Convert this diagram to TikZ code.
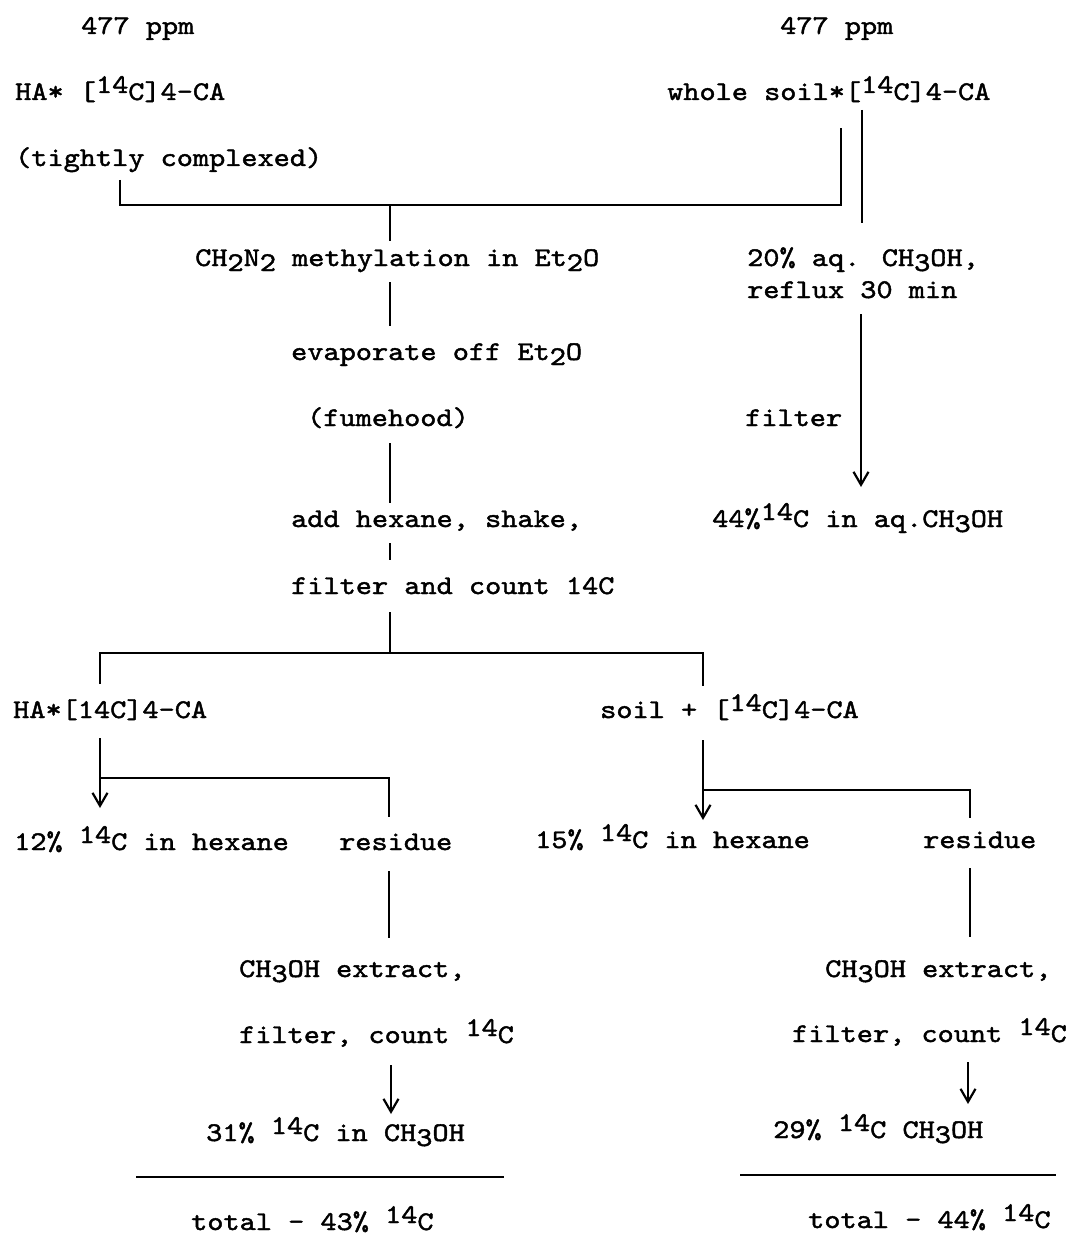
\documentclass[tikz,border=0pt]{standalone}
\usepackage{fontspec}
\usetikzlibrary{arrows.meta}
% typewriter face, widened to a 12-pitch look
\newfontfamily\typewr[FakeStretch=1.14,FakeBold=1.6]{lmmono10-regular.otf}
\newcommand\up[1]{\raisebox{7pt}{#1}}
\newcommand\dn[1]{\raisebox{-5pt}{#1}}

\begin{document}
\begin{tikzpicture}[x=1pt,y=-1pt,
  lbl/.style={anchor=base west,inner sep=0pt,font={\typewr\fontsize{27}{32}\selectfont}},
  wire/.style={line width=1.8pt},
  arr/.style={wire,-{Straight Barb[length=13pt,width=15pt,line width=2.2pt]}}]
\useasboundingbox (0,0) rectangle (1070,1241);

% ---- labels ----
\node[lbl] (ppmL)  at (81,34)   {477 ppm};
\node[lbl] (ppmR)  at (780,34)  {477 ppm};
\node[lbl] (haA)   at (15,100)  {HA* [\up{14}C]4-CA};
\node[lbl] (soilA) at (667,100) {whole soil*[\up{14}C]4-CA};
\node[lbl] (tight) at (15,166)  {(tightly complexed)};
\node[lbl] (methyl) at (195,266) {CH\dn{2}N\dn{2} methylation in Et\dn{2}O};
\node[lbl] (aq)     at (747,266) {20\% aq. CH\dn{3}OH,};
\node[lbl] (reflux) at (747,298) {reflux 30 min};
\node[lbl] (evap)   at (291,360) {evaporate off Et\dn{2}O};
\node[lbl] (fume)   at (307,426) {(fumehood)};
\node[lbl] (filt)   at (745,426) {filter};
\node[lbl] (hex)    at (291,527) {add hexane, shake,};
\node[lbl] (aqres)  at (712,527) {44\%\up{14}C in aq.CH\dn{3}OH};
\node[lbl] (count)  at (291,594) {filter and count 14C};
\node[lbl] (haB)    at (13,718)  {HA*[14C]4-CA};
\node[lbl] (soilB)  at (600,718) {soil + [\up{14}C]4-CA};
\node[lbl] (hexL)   at (14,850)  {12\% \up{14}C in hexane};
\node[lbl] (resL)   at (339,850) {residue};
\node[lbl] (hexR)   at (535,848) {15\% \up{14}C in hexane};
\node[lbl] (resR)   at (923,848) {residue};
\node[lbl] (extL)   at (239,977)  {CH\dn{3}OH extract,};
\node[lbl] (cntL)   at (239,1043) {filter, count \up{14}C};
\node[lbl] (mL)     at (206,1141) {31\% \up{14}C in CH\dn{3}OH};
\node[lbl] (totL)   at (191,1230) {total - 43\% \up{14}C};
\node[lbl] (extR)   at (825,977)  {CH\dn{3}OH extract,};
\node[lbl] (cntR)   at (792,1042) {filter, count \up{14}C};
\node[lbl] (mR)     at (773,1138) {29\% \up{14}C CH\dn{3}OH};
\node[lbl] (totR)   at (808,1228) {total - 44\% \up{14}C};

% ---- junction points ----
\coordinate (a1) at (120,180);  \coordinate (a2) at (120,205);
\coordinate (a3) at (841,205);  \coordinate (a4) at (841,128);
\coordinate (t0) at (390,205);  \coordinate (t1) at (390,241);
\coordinate (t2) at (390,282);  \coordinate (t3) at (390,326);
\coordinate (t4) at (390,443);  \coordinate (t5) at (390,503);
\coordinate (t6) at (390,543);  \coordinate (t7) at (390,560);
\coordinate (t8) at (390,612);  \coordinate (t9) at (390,653);
\coordinate (b1) at (100,684);  \coordinate (b2) at (100,653);
\coordinate (b3) at (703,653);  \coordinate (b4) at (703,686);
\coordinate (l1) at (100,738);  \coordinate (l2) at (100,808);
\coordinate (l3) at (100,778);  \coordinate (l4) at (389,778);
\coordinate (l5) at (389,817);
\coordinate (l6) at (389,871);  \coordinate (l7) at (389,938);
\coordinate (l8) at (391,1065); \coordinate (l9) at (391,1114);
\coordinate (r1) at (703,740);  \coordinate (r2) at (703,820);
\coordinate (r3) at (703,790);  \coordinate (r4) at (970,790);
\coordinate (r5) at (970,818);
\coordinate (r6) at (970,868);  \coordinate (r7) at (970,937);
\coordinate (r8) at (968,1062); \coordinate (r9) at (968,1104);
\coordinate (w1) at (862,110);  \coordinate (w2) at (862,223);
\coordinate (w3) at (861,314);  \coordinate (w4) at (861,487);
\coordinate (s1) at (136,1177); \coordinate (s2) at (504,1177);
\coordinate (s3) at (740,1175); \coordinate (s4) at (1056,1175);

% ---- connectors ----
\draw[wire] (a1) -- (a2) -- (a3) -- (a4);
\draw[wire] (t0) -- (t1);
\draw[wire] (t2) -- (t3);
\draw[wire] (t4) -- (t5);
\draw[wire] (t6) -- (t7);
\draw[wire] (t8) -- (t9);
\draw[wire] (b1) -- (b2) -- (b3) -- (b4);
\draw[arr]  (l1) -- (l2);
\draw[wire] (l3) -- (l4) -- (l5);
\draw[wire] (l6) -- (l7);
\draw[arr]  (l8) -- (l9);
\draw[arr]  (r1) -- (r2);
\draw[wire] (r3) -- (r4) -- (r5);
\draw[wire] (r6) -- (r7);
\draw[arr]  (r8) -- (r9);
\draw[wire] (w1) -- (w2);
\draw[arr]  (w3) -- (w4);
\draw[wire] (s1) -- (s2);
\draw[wire] (s3) -- (s4);
\end{tikzpicture}
\end{document}
